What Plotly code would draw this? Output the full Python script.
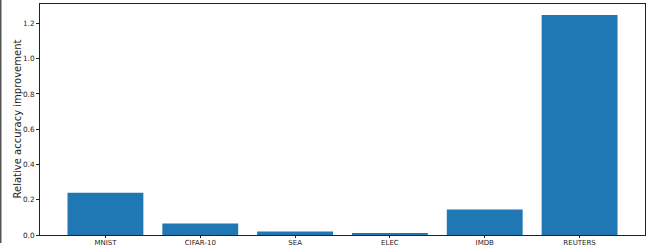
import plotly.graph_objects as go

categories = ["MNIST", "CIFAR-10", "SEA", "ELEC", "IMDB", "REUTERS"]
improvement = [0.24, 0.065, 0.02, 0.009, 0.144, 1.248]
y_ticks = [0.0, 0.2, 0.4, 0.6, 0.8, 1.0, 1.2]
y_tick_labels = ["0.0", "0.2", "0.4", "0.6", "0.8", "1.0", "1.2"]

W, H = 647, 246
ml, mr, mt, mb = 40, 2, 4, 11
pw, ph = W - ml - mr, H - mt - mb

fig = go.Figure(go.Bar(
    x=list(range(len(categories))),
    y=improvement,
    width=0.8,
    marker=dict(color="#1f77b4", line=dict(width=0)),
    hoverinfo="skip",
))

fig.update_layout(
    width=W, height=H,
    margin=dict(l=ml, r=mr, t=mt, b=mb, pad=0, autoexpand=False),
    paper_bgcolor="white", plot_bgcolor="white",
    showlegend=False,
    font=dict(family="DejaVu Sans", color="#222", size=7),
    xaxis=dict(
        range=[-0.69, 5.69],
        tickmode="array",
        tickvals=list(range(len(categories))),
        ticktext=categories,
        ticks="outside", ticklen=2, tickwidth=1, tickcolor="#222",
        showline=True, linecolor="#222", linewidth=1, mirror=True,
        showgrid=False, zeroline=False, automargin=False,
        ticklabelstandoff=-1,
        tickfont=dict(size=7, color="#222"),
    ),
    yaxis=dict(
        range=[0, 1.3104],
        tickmode="array",
        tickvals=y_ticks,
        ticktext=y_tick_labels,
        ticks="outside", ticklen=3, tickwidth=1, tickcolor="#222",
        showline=True, linecolor="#222", linewidth=1, mirror=True,
        showgrid=False, zeroline=False, automargin=False,
        tickfont=dict(size=7.3, color="#222"),
    ),
    annotations=[dict(
        text="Relative accuracy improvement",
        xref="paper", yref="paper",
        x=(17 - ml) / pw, y=0.5,
        xanchor="center", yanchor="middle",
        textangle=-90, showarrow=False,
        font=dict(size=10, color="#222"),
    )],
    shapes=[dict(
        type="rect", xref="paper", yref="paper",
        x0=-ml / pw, x1=-(ml - 1.5) / pw,
        y0=-8 / ph, y1=(ph + mt) / ph,
        fillcolor="#555", line=dict(width=0),
        layer="above",
    )],
)

fig.write_html(
    "out.html",
    config={"displayModeBar": False},
    post_script="document.body.style.margin='0';document.body.style.overflow='hidden';",
)
